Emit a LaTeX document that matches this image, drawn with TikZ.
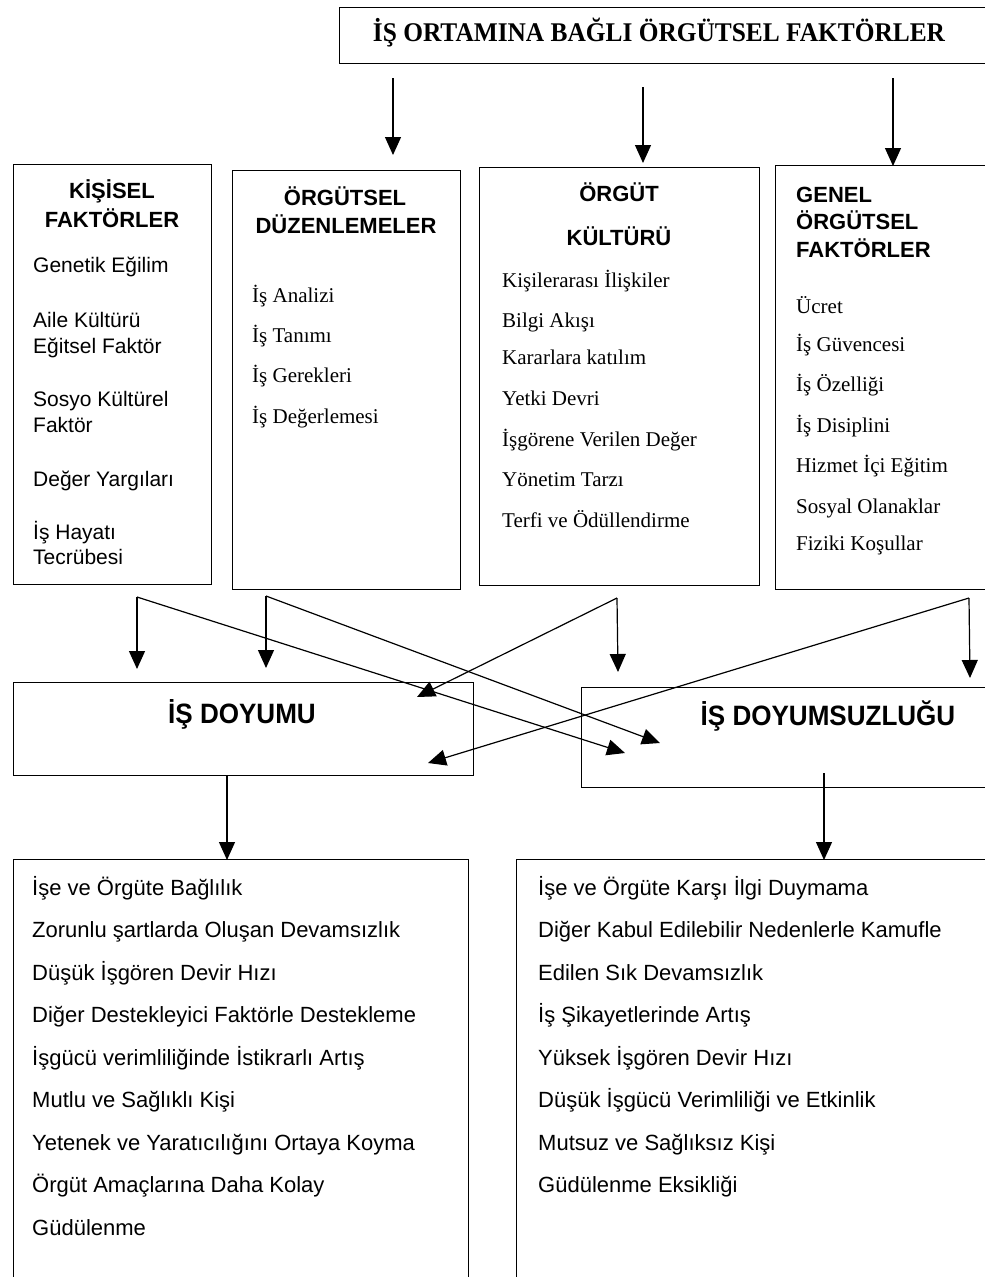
\documentclass[tikz,border=0pt]{standalone}
\usepackage{fontspec}
\setmainfont{Liberation Serif}
\newfontfamily\arialfont{Liberation Sans}
\usetikzlibrary{arrows.meta}
\begin{document}
\begin{tikzpicture}[x=1pt,y=-1pt,
  frame/.style={draw, line width=1.3pt, rectangle, inner sep=0pt, anchor=north west},
  link/.style={line width=1.2pt, -{Triangle[length=18pt,width=16pt]}},
  title/.style={font={\bfseries\fontsize{27}{30}\selectfont}, xscale=0.94, anchor=base, inner sep=0pt},
  headc/.style={font={\arialfont\bfseries\fontsize{22}{26}\selectfont}, anchor=base, inner sep=0pt},
  headl/.style={font={\arialfont\bfseries\fontsize{22}{26}\selectfont}, anchor=base west, inner sep=0pt},
  bighead/.style={font={\arialfont\bfseries\fontsize{28}{32}\selectfont}, xscale=0.93, anchor=base, inner sep=0pt},
  serifitem/.style={font={\fontsize{21}{24}\selectfont}, anchor=base west, inner sep=0pt},
  sansitem/.style={font={\arialfont\fontsize{21}{24}\selectfont}, anchor=base west, inner sep=0pt},
  outitem/.style={font={\arialfont\fontsize{22}{26}\selectfont}, anchor=base west, inner sep=0pt}
]
\clip (0,0) rectangle (985,1277);
\fill[white] (0,0) rectangle (985,1277);

% boxes
\node[frame, minimum width=651pt, minimum height=56pt] (top) at (339,7) {};
\node[frame, minimum width=198pt, minimum height=420pt] (b1) at (13,164) {};
\node[frame, minimum width=228pt, minimum height=419pt] (b2) at (232,170) {};
\node[frame, minimum width=280pt, minimum height=418pt] (b3) at (479,167) {};
\node[frame, minimum width=220pt, minimum height=424pt] (b4) at (775,165) {};
\node[frame, minimum width=460pt, minimum height=93pt] (sat) at (13,682) {};
\node[frame, minimum width=410pt, minimum height=100pt] (dis) at (581,687) {};
\node[frame, minimum width=455pt, minimum height=440pt] (out1) at (13,859) {};
\node[frame, minimum width=480pt, minimum height=440pt] (out2) at (516,859) {};

% headings
\node[title] (ttl) at (659,41) {İŞ ORTAMINA BAĞLI ÖRGÜTSEL FAKTÖRLER};
\node[headc] (h1a) at (112,198) {KİŞİSEL};
\node[headc] (h1b) at (112,227) {FAKTÖRLER};
\node[headc] (h2a) at (345,205) {ÖRGÜTSEL};
\node[headc] (h2b) at (346,233) {DÜZENLEMELER};
\node[headc] (h3a) at (619,201) {ÖRGÜT};
\node[headc] (h3b) at (619,245) {KÜLTÜRÜ};
\node[headl] (h4a) at (796,202) {GENEL};
\node[headl] (h4b) at (796,229) {ÖRGÜTSEL};
\node[headl] (h4c) at (796,257) {FAKTÖRLER};
\node[bighead] (hs) at (242,723) {İŞ DOYUMU};
\node[bighead] (hd) at (828,725) {İŞ DOYUMSUZLUĞU};

% box contents
\foreach \y/\t [count=\i] in {272/Genetik Eğilim, 327/Aile Kültürü, 353/Eğitsel Faktör,
    406/Sosyo Kültürel, 432/Faktör, 486/Değer Yargıları, 539/İş Hayatı, 564/Tecrübesi}
  \node[sansitem] (k\i) at (33,\y) {\t};
\foreach \y/\t [count=\i] in {302/İş Analizi, 342/İş Tanımı, 382/İş Gerekleri, 423/İş Değerlemesi}
  \node[serifitem] (d\i) at (252,\y) {\t};
\foreach \y/\t [count=\i] in {287/Kişilerarası İlişkiler, 327/Bilgi Akışı, 364/Kararlara katılım,
    405/Yetki Devri, 446/İşgörene Verilen Değer, 486/Yönetim Tarzı, 527/Terfi ve Ödüllendirme}
  \node[serifitem] (c\i) at (502,\y) {\t};
\foreach \y/\t [count=\i] in {313/Ücret, 351/İş Güvencesi, 391/İş Özelliği, 432/İş Disiplini,
    472/Hizmet İçi Eğitim, 513/Sosyal Olanaklar, 550/Fiziki Koşullar}
  \node[serifitem] (g\i) at (796,\y) {\t};
\foreach \y/\t [count=\i] in {895/İşe ve Örgüte Bağlılık, 937/Zorunlu şartlarda Oluşan Devamsızlık,
    980/Düşük İşgören Devir Hızı, 1022/Diğer Destekleyici Faktörle Destekleme,
    1065/İşgücü verimliliğinde İstikrarlı Artış, 1107/Mutlu ve Sağlıklı Kişi,
    1150/Yetenek ve Yaratıcılığını Ortaya Koyma, 1192/Örgüt Amaçlarına Daha Kolay, 1235/Güdülenme}
  \node[outitem] (p\i) at (32,\y) {\t};
\foreach \y/\t [count=\i] in {895/İşe ve Örgüte Karşı İlgi Duymama,
    937/Diğer Kabul Edilebilir Nedenlerle Kamufle, 980/Edilen Sık Devamsızlık,
    1022/İş Şikayetlerinde Artış, 1065/Yüksek İşgören Devir Hızı,
    1107/Düşük İşgücü Verimliliği ve Etkinlik, 1150/Mutsuz ve Sağlıksız Kişi, 1192/Güdülenme Eksikliği}
  \node[outitem] (n\i) at (538,\y) {\t};

% connector ends
\coordinate (ta) at (393,78);  \coordinate (tae) at (393,155);
\coordinate (tb) at (643,87);  \coordinate (tbe) at (643,163);
\coordinate (tc) at (893,78);  \coordinate (tce) at (893,166);
\coordinate (s1) at (137,597); \coordinate (s1d) at (137,669); \coordinate (s1x) at (625,753);
\coordinate (s2) at (266,596); \coordinate (s2d) at (266,668); \coordinate (s2x) at (660,743);
\coordinate (s3) at (617,598); \coordinate (s3d) at (618,672); \coordinate (s3x) at (417,697);
\coordinate (s4) at (969,598); \coordinate (s4d) at (970,678); \coordinate (s4x) at (428,763);
\coordinate (o1) at (227,775); \coordinate (o1e) at (227,860);
\coordinate (o2) at (824,773); \coordinate (o2e) at (824,860);

% connectors
\draw[link] (ta) -- (tae);
\draw[link] (tb) -- (tbe);
\draw[link] (tc) -- (tce);
\draw[link] (s1) -- (s1d);
\draw[link] (s1) -- (s1x);
\draw[link] (s2) -- (s2d);
\draw[link] (s2) -- (s2x);
\draw[link] (s3) -- (s3d);
\draw[link] (s3) -- (s3x);
\draw[link] (s4) -- (s4d);
\draw[link] (s4) -- (s4x);
\draw[link] (o1) -- (o1e);
\draw[link] (o2) -- (o2e);
\end{tikzpicture}
\end{document}
